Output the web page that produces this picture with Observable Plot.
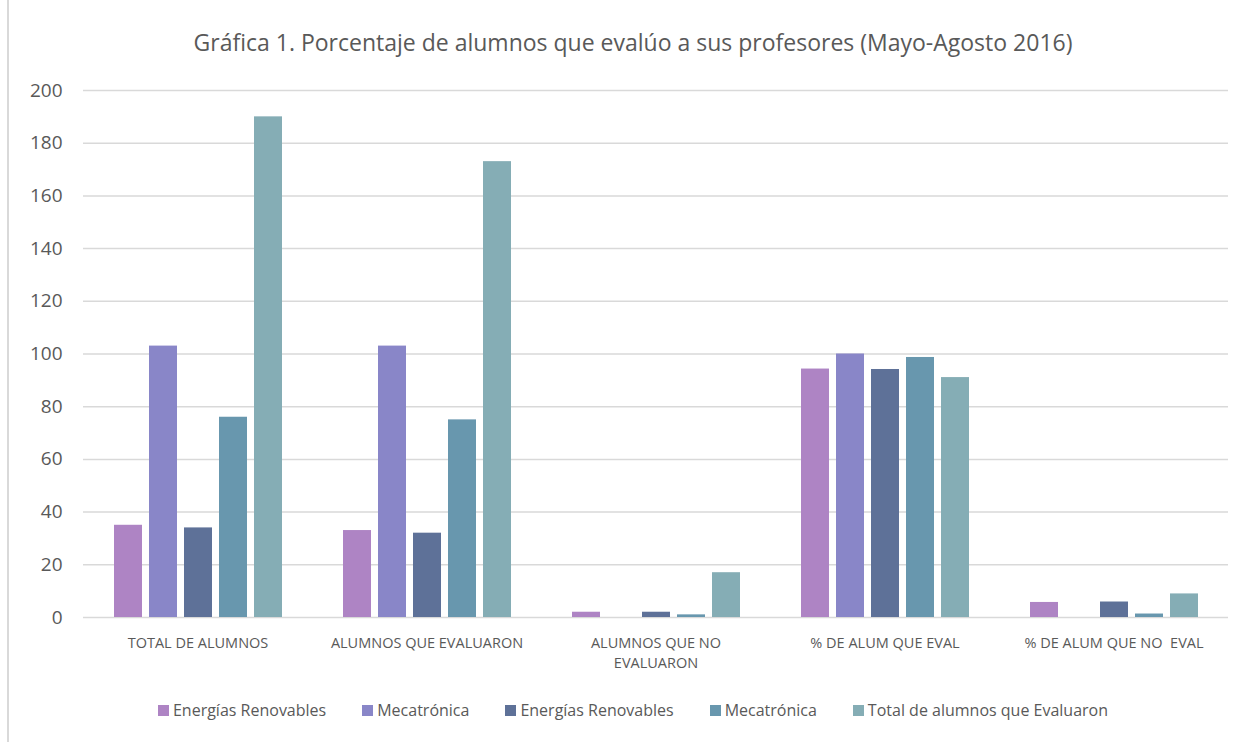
<!DOCTYPE html>
<html>
<head>
<meta charset="utf-8">
<script src="https://cdn.jsdelivr.net/npm/d3@7"></script>
<script src="https://cdn.jsdelivr.net/npm/@observablehq/plot@0.6"></script>
<style>
  html, body { margin: 0; padding: 0; background: #fff; }
  body { width: 1257px; height: 742px; position: relative; overflow: hidden; font-family: "Open Sans", sans-serif; }
  #frame { position: absolute; left: 7px; top: 0px; width: 1300px; height: 800px; border-left: 2px solid #d9d9d9; box-sizing: border-box; }
  #title { position: absolute; left: 0; width: 1266px; top: 26px; text-align: center; font-size: 23px; color: #595959; white-space: nowrap; }
  #chart { position: absolute; left: 0; top: 70px; }
  #legend { position: absolute; left: 0; width: 1266px; top: 699px; display: flex; justify-content: center; gap: 36px; font-size: 16px; color: #595959; }
  #legend .item { display: flex; align-items: center; }
  #legend .sw { width: 11px; height: 11px; margin-right: 4px; }
</style>
</head>
<body>
<div id="frame"></div>
<div id="title">Gráfica 1. Porcentaje de alumnos que evalúo a sus profesores (Mayo-Agosto 2016)</div>
<div id="chart"></div>
<div id="legend"></div>
<script>
const categories = ["TOTAL DE ALUMNOS", "ALUMNOS QUE EVALUARON", "ALUMNOS QUE NO EVALUARON", "% DE ALUM QUE EVAL", "% DE ALUM QUE NO  EVAL"];
const categoryLabels = ["TOTAL DE ALUMNOS", "ALUMNOS QUE EVALUARON", "ALUMNOS QUE NO\nEVALUARON", "% DE ALUM QUE EVAL", "% DE ALUM QUE NO  EVAL"];
const seriesKeys = ["s1", "s2", "s3", "s4", "s5"];
const seriesNames = ["Energías Renovables", "Mecatrónica", "Energías Renovables", "Mecatrónica", "Total de alumnos que Evaluaron"];
const seriesColors = ["#ae84c4", "#8986c8", "#5e7198", "#6897ae", "#85adb5"];
const energias1 = [35, 33, 2, 94.29, 5.71];
const mecatronica1 = [103, 103, 0, 100, 0];
const energias2 = [34, 32, 2, 94.12, 5.88];
const mecatronica2 = [76, 75, 1, 98.68, 1.32];
const totalEval = [190, 173, 17, 91.05, 8.95];
const yTicks = [0, 20, 40, 60, 80, 100, 120, 140, 160, 180, 200];

const seriesValues = [energias1, mecatronica1, energias2, mecatronica2, totalEval];
const data = [];
categories.forEach((c, i) => {
  seriesKeys.forEach((s, j) => data.push({category: c, series: s, value: seriesValues[j][i]}));
});

const chart = Plot.plot({
  width: 1257,
  height: 610,
  marginLeft: 83,
  marginRight: 29,
  marginTop: 20,
  marginBottom: 63,
  style: {fontFamily: "'Open Sans', sans-serif", color: "#595959", background: "transparent"},
  fx: {domain: categories, padding: 0, label: null},
  x: {domain: seriesKeys, paddingInner: 0.2, paddingOuter: 0.85, axis: null},
  y: {domain: [0, 200], label: null},
  color: {domain: seriesKeys, range: seriesColors},
  marks: [
    Plot.gridY(yTicks, {stroke: "#d9d9d9", strokeOpacity: 1, strokeWidth: 1.5}),
    Plot.axisY(yTicks, {tickSize: 0, tickPadding: 21, fontSize: 19, fill: "#595959"}),
    Plot.axisFx({anchor: "bottom", tickSize: 0, tickPadding: 16, fontSize: 14.5, fill: "#595959", lineHeight: 1.4,
      tickFormat: d => categoryLabels[categories.indexOf(d)]}),
    Plot.barY(data, {fx: "category", x: "series", y: "value", fill: "series"})
  ]
});
document.getElementById("chart").appendChild(chart);

const legend = document.getElementById("legend");
seriesNames.forEach((n, i) => {
  const it = document.createElement("div");
  it.className = "item";
  const sw = document.createElement("div");
  sw.className = "sw";
  sw.style.background = seriesColors[i];
  const t = document.createElement("span");
  t.textContent = n;
  it.appendChild(sw);
  it.appendChild(t);
  legend.appendChild(it);
});
</script>
</body>
</html>
